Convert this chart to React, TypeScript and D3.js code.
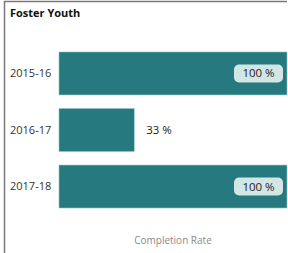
import React, { useEffect, useRef } from 'react';
import * as d3 from 'd3';

const years = ['2015-16', '2016-17', '2017-18'];
const rates = [100, 33, 100];
const valueLabels = ['100 %', '33 %', '100 %'];

const App = () => {
  const ref = useRef<SVGSVGElement>(null);

  useEffect(() => {
    if (!ref.current) return;
    const svg = d3.select(ref.current);
    svg.selectAll('*').remove();
    const font = '"Open Sans", "DejaVu Sans", sans-serif';

    // frame
    svg.append('path')
      .attr('d', 'M4.5,253 V1.5 H287')
      .attr('fill', 'none')
      .attr('stroke', '#7a7a7a')
      .attr('stroke-width', 1.5);

    svg.append('text')
      .attr('x', 10).attr('y', 17)
      .attr('font-family', font).attr('font-weight', 'bold')
      .attr('font-size', 11).attr('fill', '#111')
      .text('Foster Youth');

    const x = d3.scaleLinear().domain([0, 100]).range([59, 287]);
    const y = d3.scaleBand().domain(years).range([46, 214]).paddingInner(0.24).paddingOuter(0.106);

    const rows = svg.selectAll('.row').data(years).enter().append('g');

    rows.append('rect')
      .attr('x', x(0))
      .attr('y', (d) => y(d)!)
      .attr('width', (_, i) => x(rates[i]) - x(0))
      .attr('height', y.bandwidth())
      .attr('fill', '#25797f')
      .attr('stroke', '#8fc4c4')
      .attr('stroke-width', 0.6);

    rows.append('text')
      .attr('x', 10)
      .attr('y', (d) => y(d)! + y.bandwidth() / 2)
      .attr('dy', '0.35em')
      .attr('font-family', font).attr('font-size', 11)
      .attr('fill', '#333')
      .text((d) => d);

    rows.each(function (d, i) {
      const g = d3.select(this);
      const cy = y(d)! + y.bandwidth() / 2;
      const end = x(rates[i]);
      if (rates[i] > 50) {
        g.append('rect')
          .attr('x', end - 53).attr('y', cy - 9)
          .attr('width', 49).attr('height', 18)
          .attr('rx', 5)
          .attr('fill', '#d3e6e6');
        g.append('text')
          .attr('x', end - 28.5).attr('y', cy)
          .attr('dy', '0.35em').attr('text-anchor', 'middle')
          .attr('font-family', font).attr('font-size', 11.5)
          .attr('fill', '#222')
          .text(valueLabels[i]);
      } else {
        g.append('text')
          .attr('x', end + 12).attr('y', cy)
          .attr('dy', '0.35em')
          .attr('font-family', font).attr('font-size', 11.5)
          .attr('fill', '#222')
          .text(valueLabels[i]);
      }
    });

    svg.append('text')
      .attr('x', 173).attr('y', 244)
      .attr('text-anchor', 'middle')
      .attr('font-family', font).attr('font-size', 10)
      .attr('fill', '#8a8a8a')
      .text('Completion Rate');
  }, []);

  return (
    <svg ref={ref} width={288} height={253}
      style={{ position: 'absolute', left: 0, top: 0, background: '#fff' }} />
  );
};

export default App;
